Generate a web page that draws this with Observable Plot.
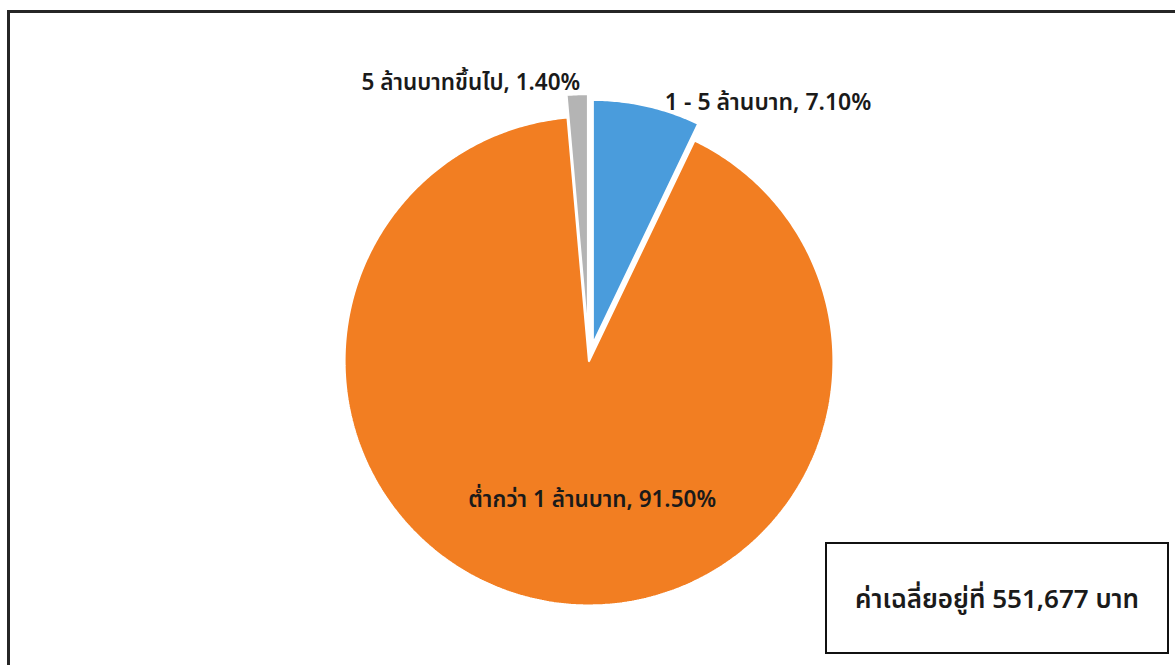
<!DOCTYPE html>
<html>
<head>
<meta charset="utf-8">
<script src="https://cdn.jsdelivr.net/npm/d3@7"></script>
<script src="https://cdn.jsdelivr.net/npm/@observablehq/plot@0.6"></script>
<style>
  html, body { margin: 0; padding: 0; background: #fff; }
  #wrap { position: relative; width: 1175px; height: 665px; overflow: hidden; font-family: Tahoma, "Noto Sans Thai", "Noto Sans", "DejaVu Sans", sans-serif; }
  #frame { position: absolute; left: 7px; top: 10px; width: 1200px; height: 700px; border-top: 3px solid #262626; border-left: 3px solid #262626; box-sizing: border-box; pointer-events: none; }
  #note { position: absolute; left: 825px; top: 542px; width: 344px; height: 112px; border: 2.5px solid #111; box-sizing: border-box; display: flex; align-items: center; justify-content: center; font-size: 26px; font-weight: 600; color: #1a1a1a; background: #fff; padding-top: 4px; }
  svg { position: absolute; left: 0; top: 0; }
</style>
</head>
<body>
<div id="wrap">
  <div id="chart"></div>
  <div id="frame"></div>
  <div id="note"></div>
</div>
<script>
// ---- data ----
const categories = ["1 - 5 ล้านบาท", "ต่ำกว่า 1 ล้านบาท", "5 ล้านบาทขึ้นไป"];
const shares = [7.10, 91.50, 1.40];
const averageText = "ค่าเฉลี่ยอยู่ที่ 551,677 บาท";

// ---- style ----
const colors = ["#4a9cdc", "#f27e22", "#b4b4b4"];
const explode = [0.07, 0, 0.092]; // in radius units

const pie = d3.pie().sort(null).value(d => d.share)(categories.map((c, i) => ({cat: c, share: shares[i], i})));

const points = [];
const slices = pie.map(p => {
  const i = p.data.i;
  const mid = (p.startAngle + p.endAngle) / 2;
  const ox = Math.sin(mid) * explode[i], oy = Math.cos(mid) * explode[i];
  const poly = [[ox, oy]];
  const n = Math.max(8, Math.ceil((p.endAngle - p.startAngle) / 0.01));
  for (let k = 0; k <= n; k++) {
    const a = p.startAngle + (p.endAngle - p.startAngle) * k / n;
    poly.push([ox + Math.sin(a), oy + Math.cos(a)]);
  }
  poly.push([ox, oy]);
  poly.forEach(([x, y]) => points.push({cat: p.data.cat, x, y}));
  return {cat: p.data.cat, share: p.data.share, i, mid, ox, oy,
          label: `${p.data.cat}, ${p.data.share.toFixed(2)}%`};
});

const outer = s => ({...s, x: s.ox + Math.sin(s.mid), y: s.oy + Math.cos(s.mid)});
const inner = (s, r) => ({...s, x: Math.sin(s.mid) * r, y: Math.cos(s.mid) * r});

const R = 244.5, cx = 588.5, cy = 360.5, W = 1175, H = 665;
const fontFam = 'Tahoma, "Noto Sans Thai", "Noto Sans", "DejaVu Sans", sans-serif';

const chart = Plot.plot({
  width: W, height: H,
  marginLeft: 0, marginRight: 0, marginTop: 0, marginBottom: 0,
  x: {domain: [-cx / R, (W - cx) / R], axis: null},
  y: {domain: [-(H - cy) / R, cy / R], axis: null},
  color: {domain: categories, range: colors},
  style: {fontFamily: fontFam, background: "#fff"},
  marks: [
    Plot.line(points, {x: "x", y: "y", z: "cat", fill: "cat", stroke: "#fff", strokeWidth: 2.2, strokeLinejoin: "miter"}),
    Plot.text(slices.filter(s => s.i === 0).map(outer), {x: "x", y: "y", text: "label", textAnchor: "start", dx: 18, dy: -3, fontSize: 23, fontWeight: 600, fill: "#1a1a1a"}),
    Plot.text(slices.filter(s => s.i === 2).map(outer), {x: "x", y: "y", text: "label", textAnchor: "end", dx: 3, dy: -11, fontSize: 22.5, fontWeight: 600, fill: "#1a1a1a"}),
    Plot.text(slices.filter(s => s.i === 1).map(s => inner(s, 0.57)), {x: "x", y: "y", text: "label", textAnchor: "middle", dx: 28, dy: 2, fontSize: 22.5, fontWeight: 600, fill: "#1a1a1a"})
  ]
});
document.getElementById("chart").appendChild(chart);
document.getElementById("note").textContent = averageText;
</script>
</body>
</html>
